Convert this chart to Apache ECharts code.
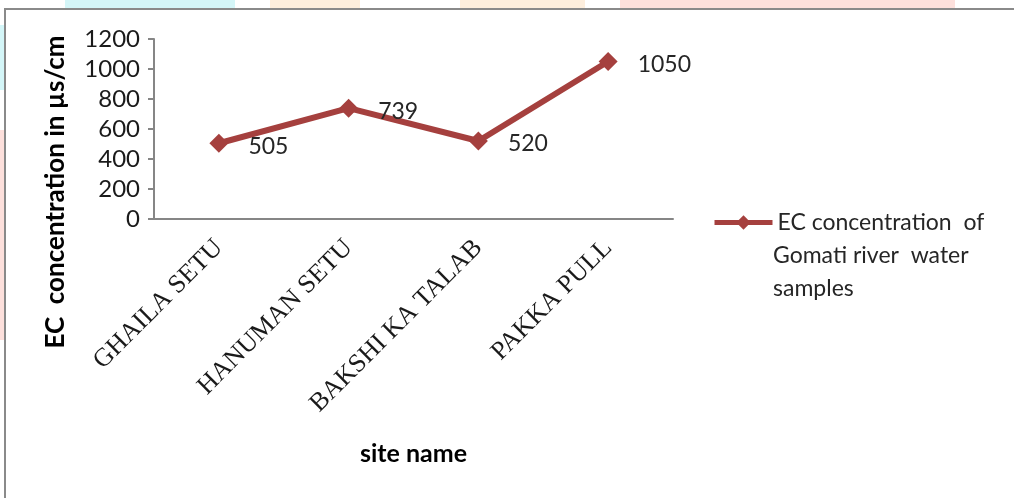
<!DOCTYPE html>
<html>
<head>
<meta charset="utf-8">
<script src="https://cdn.jsdelivr.net/npm/echarts@6/dist/echarts.min.js"></script>
<style>
html,body{margin:0;padding:0;background:#fff;}
#chart{width:1014px;height:498px;}
</style>
</head>
<body>
<div id="chart"></div>
<script>
const categories = ['GHAILA SETU', 'HANUMAN SETU', 'BAKSHI KA TALAB', 'PAKKA PULL'];
const ecValues = [505, 739, 520, 1050];
const seriesName = 'EC concentration  of Gomati river  water samples';
const legendLines = ['EC concentration  of', 'Gomati river  water', 'samples'];
const yTicks = [0, 200, 400, 600, 800, 1000, 1200];
const yAxisTitle = 'EC  concentration in µs/cm';
const xAxisTitle = 'site name';

const chart = echarts.init(document.getElementById('chart'));
const option = {
  backgroundColor: '#ffffff',
  animation: false,
  graphic: [
    { type: 'rect', shape: { x: 65, y: 0, width: 170, height: 8 }, style: { fill: '#d4f6f8' }, silent: true },
    { type: 'rect', shape: { x: 270, y: 0, width: 90, height: 8 }, style: { fill: '#fdeedd' }, silent: true },
    { type: 'rect', shape: { x: 460, y: 0, width: 125, height: 8 }, style: { fill: '#fdeedd' }, silent: true },
    { type: 'rect', shape: { x: 620, y: 0, width: 335, height: 8 }, style: { fill: '#fde0dc' }, silent: true },
    { type: 'rect', shape: { x: 0, y: 25, width: 4, height: 65 }, style: { fill: '#d4f6f8' }, silent: true },
    { type: 'rect', shape: { x: 0, y: 130, width: 4, height: 210 }, style: { fill: '#fde0dc' }, silent: true },
    { type: 'rect', shape: { x: 5, y: 9, width: 1020, height: 500 }, style: { fill: 'none', stroke: '#8a8a8a', lineWidth: 2 }, silent: true },
    { type: 'text', x: 56, y: 192, rotation: Math.PI / 2,
      style: { text: yAxisTitle, fontFamily: 'Lato', fontWeight: 'bold', fontSize: 26, fill: '#000', align: 'center', verticalAlign: 'middle' } },
    { type: 'text', x: 773, y: 272,
      style: { text: legendLines.slice(1).join('\n'), fontFamily: 'Lato', fontSize: 23, lineHeight: 33, fill: '#262626', align: 'left', verticalAlign: 'middle' } }
  ],
  grid: { left: 154, right: 341, top: 39, bottom: 279, containLabel: false },
  legend: {
    left: 707, top: 206,
    itemWidth: 58, itemHeight: 18, itemGap: 4,
    lineStyle: { width: 5 },
    formatter: () => legendLines[0],
    textStyle: { fontFamily: 'Lato', fontSize: 23, color: '#262626' },
    data: [seriesName]
  },
  xAxis: {
    type: 'category',
    data: categories,
    boundaryGap: true,
    axisLine: { lineStyle: { color: '#868686', width: 2 } },
    axisTick: { show: false },
    axisLabel: { rotate: 45, margin: 25, fontFamily: 'Liberation Serif', fontSize: 26, color: '#1a1a1a', interval: 0 },
    name: xAxisTitle,
    nameLocation: 'middle',
    nameGap: 222,
    nameTextStyle: { fontFamily: 'Lato', fontWeight: 'bold', fontSize: 25, color: '#000' }
  },
  yAxis: {
    type: 'value',
    min: 0, max: 1200, interval: 200,
    axisLine: { show: true, lineStyle: { color: '#868686', width: 2 } },
    axisTick: { show: true, length: 6, lineStyle: { color: '#868686', width: 2 } },
    splitLine: { show: false },
    axisLabel: { margin: 14, fontFamily: 'Lato', fontSize: 24, color: '#1a1a1a',
      formatter: v => yTicks.includes(v) ? String(v) : '' }
  },
  series: [{
    name: seriesName,
    type: 'line',
    data: ecValues,
    symbol: 'diamond',
    symbolSize: 19,
    lineStyle: { color: '#a5403e', width: 6 },
    itemStyle: { color: '#a5403e' },
    label: { show: true, position: 'right', distance: 20, offset: [0, 3], fontFamily: 'Lato', fontSize: 23, color: '#262626' }
  }]
};
chart.setOption(option);
</script>
</body>
</html>
